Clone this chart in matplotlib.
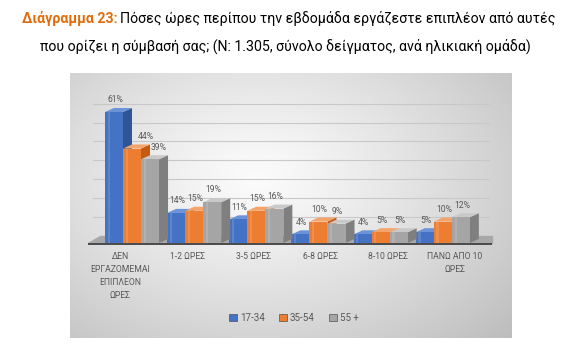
import numpy as np
import matplotlib.pyplot as plt
from matplotlib.patches import Polygon, Rectangle
from matplotlib.colors import to_rgb

plt.rcParams['font.family'] = ['Roboto', 'DejaVu Sans']

categories = ['ΔΕΝ\nΕΡΓΑΖΟΜΕΜΑΙ\nΕΠΙΠΛΕΟΝ\nΩΡΕΣ', '1-2 ΩΡΕΣ', '3-5 ΩΡΕΣ',
              '6-8 ΩΡΕΣ', '8-10 ΩΡΕΣ', 'ΠΑΝΩ ΑΠΟ 10\nΩΡΕΣ']
age_groups = ['17-34', '35-54', '55 +']
v_17_34 = [61, 14, 11, 4, 4, 5]
v_35_54 = [44, 15, 15, 10, 5, 10]
v_55 = [39, 19, 16, 9, 5, 12]

# front, side, top colours per series
palette = [
    ('#4472C4', '#2F5597', '#6C93D8'),
    ('#ED7D31', '#C55A11', '#F4A46B'),
    ('#A5A5A5', '#7F7F7F', '#C9C9C9'),
]

W, H = 570, 349
fig = plt.figure(figsize=(W / 100, H / 100), dpi=100)

# title, two centred lines; the first starts with an orange bold label
title_fs = 10.2
t1 = fig.text(22 / W, 1 - 19 / H, 'Διάγραμμα 23:', color='#E36C0A',
              fontweight='bold', fontsize=title_fs, va='center', ha='left')
fig.canvas.draw()
bb = t1.get_window_extent()
fig.text(bb.x1 / W + 0.005, 1 - 19 / H,
         'Πόσες ώρες περίπου την εβδομάδα εργάζεστε επιπλέον από αυτές',
         fontsize=title_fs, va='center', ha='left', color='black')
fig.text(0.5, 1 - 46 / H,
         'που ορίζει η σύμβασή σας; (N: 1.305, σύνολο δείγματος, ανά ηλικιακή ομάδα)',
         fontsize=title_fs, va='center', ha='center', color='black')

# chart area with a soft gradient
bx0, by0, bx1, by1 = 70, 73, 512, 338
bg = fig.add_axes([bx0 / W, 1 - by1 / H, (bx1 - bx0) / W, (by1 - by0) / H])
gx, gy = np.meshgrid(np.linspace(0, 1, 300), np.linspace(0, 1, 200))
r = np.sqrt(((gx - 0.42) / 0.8) ** 2 + ((gy - 0.4) / 0.9) ** 2)
shade = 0.985 - 0.25 * np.clip(r, 0, 1) ** 1.2
bg.imshow(np.dstack([shade] * 3), extent=[0, 1, 0, 1], aspect='auto', origin='upper')
bg.set_axis_off()

# plotting axes
ax_l, ax_r, base_y, top_y = 81, 495, 243, 82
ax = fig.add_axes([ax_l / W, 1 - base_y / H, (ax_r - ax_l) / W, (base_y - top_y) / H])
ax.patch.set_alpha(0)
xmin, xmax, ymax = -0.82, 5.84, 75
ax.set_xlim(xmin, xmax)
ax.set_ylim(0, ymax)

# back-wall gridlines
for g in range(10, 80, 10):
    ax.axhline(g * 0.88 + 3.3, xmin=0.03, xmax=0.985, color='#c8c8c8', lw=0.8, zorder=0)

# floor
ax.add_patch(Polygon([(xmin + 0.12, 0), (xmax - 0.05, 0), (xmax - 0.05, 3.3), (xmin + 0.3, 3.3)],
                     closed=True, color='#a8a8a8', zorder=1, clip_on=False))
ax.plot([xmin + 0.12, xmax - 0.05], [-0.4, -0.4], color='#4a4a4a', lw=1.4,
        zorder=1, clip_on=False, solid_capstyle='butt')

bw = 0.29   # front width
dx = 0.145  # depth offset in x
dy = 1.9    # depth offset in y
x = np.arange(len(categories))
series = [v_17_34, v_35_54, v_55]

# labels pushed right where they would sit on a taller neighbour's side face
label_nudge = {(1, 0): 0.2, (2, 0): 0.12}

for s, vals in enumerate(series):
    front, side, top = palette[s]
    for i, v in enumerate(vals):
        x0 = x[i] - 1.5 * bw + s * bw
        x1 = x0 + bw
        ax.add_patch(Polygon([(x1, 0), (x1 + dx, dy), (x1 + dx, v + dy), (x1, v)],
                             closed=True, color=side, zorder=2 + s, lw=0))
        ax.add_patch(Polygon([(x0, v), (x0 + dx, v + dy), (x1 + dx, v + dy), (x1, v)],
                             closed=True, color=top, zorder=2 + s, lw=0))
        ax.add_patch(Rectangle((x0, 0), bw, v, color=front, zorder=2 + s, lw=0))
        # lighter stripe for the glossy look
        hl = np.array(to_rgb(front)) * 0.6 + 0.4
        ax.add_patch(Rectangle((x0 + bw * 0.15, 0), bw * 0.12, v, color=hl,
                               alpha=0.35, zorder=2 + s, lw=0))
        lx = x0 + bw * 0.5 + 0.02 + label_nudge.get((s, i), 0)
        ax.text(lx, v + dy + 3.8, f'{v}%', ha='center', va='center',
                fontsize=6.2, color='#595959', zorder=6)

# category labels with a slight perspective shift
for i, c in enumerate(categories):
    ax.text(x[i] - 0.19 + 0.077 * i, -4.0, c, ha='center', va='top', fontsize=6.2,
            color='#595959', linespacing=1.6, clip_on=False)

ax.set_xticks([])
ax.set_yticks([])
for sp in ax.spines.values():
    sp.set_visible(False)

# legend
handles = [Rectangle((0, 0), 1, 1, facecolor=palette[k][0], edgecolor='#3a3a3a', lw=0.4)
           for k in range(3)]
fig.legend(handles, age_groups, loc='center', bbox_to_anchor=(294 / W, 1 - 318 / H),
           ncol=3, frameon=False, fontsize=7, handlelength=0.8, handleheight=0.8,
           handletextpad=0.3, columnspacing=1.5, labelcolor='#595959')

fig.savefig('out.png', dpi=100)
